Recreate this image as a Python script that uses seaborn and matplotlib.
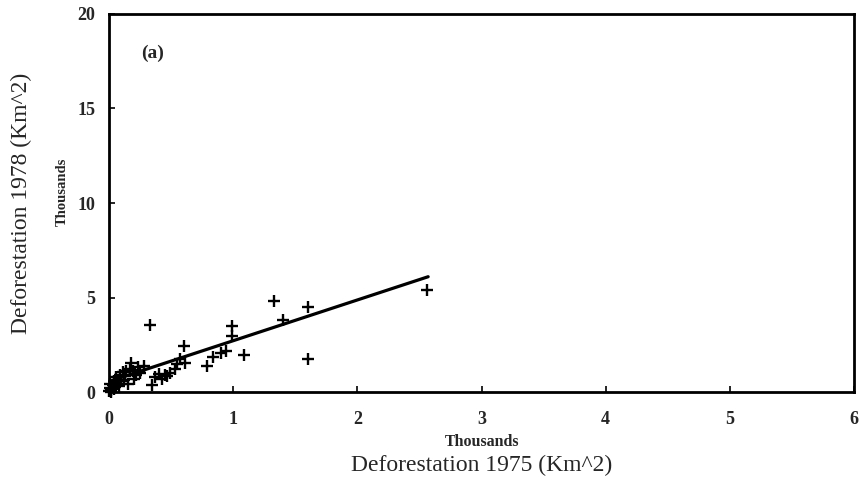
import matplotlib
matplotlib.use("Agg")
import matplotlib.pyplot as plt
import seaborn as sns
import pandas as pd

# =========================
# Data (thousands of km^2)
# =========================
defor_1975 = [0.00, 0.01, 0.02, 0.03, 0.04, 0.05, 0.06, 0.07, 0.08, 0.09,
              0.10, 0.11, 0.12, 0.14, 0.15, 0.17, 0.18, 0.20, 0.22, 0.25,
              0.28, 0.33, 0.35, 0.37, 0.40, 0.43, 0.47, 0.49, 0.53, 0.55,
              0.57, 0.61, 0.60, 0.79, 0.84, 0.90, 0.94, 0.99, 0.99, 1.09,
              1.33, 1.40, 1.60, 1.60, 2.56,
              0.01, 0.02, 0.04, 0.06, 0.13, 0.19, 0.23, 0.45]
defor_1978 = [0.05, 0.20, 0.10, 0.35, 0.60, 0.25, 0.80, 0.45, 0.30, 0.90,
              0.60, 1.05, 0.65, 1.10, 0.40, 1.20, 1.55, 0.70, 0.90, 1.00,
              1.40, 3.55, 0.35, 0.80, 0.95, 0.70, 0.85, 1.00, 1.20, 1.50,
              1.75, 1.55, 2.45, 1.35, 1.85, 2.05, 2.15, 2.95, 3.50, 1.95,
              4.80, 3.80, 4.50, 1.75, 5.40,
              0.45, 0.00, 0.15, 0.50, 0.85, 1.10, 1.30, 0.90]

# fitted regression line end points
fit_x = [0.02, 2.57]
fit_y = [0.60, 6.10]

x_ticks = [0, 1, 2, 3, 4, 5, 6]
y_ticks = [0, 5, 10, 15, 20]

df = pd.DataFrame({"x": defor_1975, "y": defor_1978})
df_fit = pd.DataFrame({"x": fit_x, "y": fit_y})

sns.set_style("ticks")
plt.rcParams["font.family"] = ["Liberation Serif", "DejaVu Serif"]

fig, ax = plt.subplots(figsize=(8.61, 4.91), dpi=100)
fig.subplots_adjust(left=0.1266, right=0.992, bottom=0.2016, top=0.9715)

sns.scatterplot(data=df, x="x", y="y", marker="+", s=75, color="black",
                linewidth=1.7, ax=ax, clip_on=False, zorder=3)
sns.lineplot(data=df_fit, x="x", y="y", color="black", linewidth=2.3, ax=ax)

ax.set_xlim(0, 6)
ax.set_ylim(0, 20)
ax.set_xticks(x_ticks)
ax.set_yticks(y_ticks)
ax.set_xticklabels([str(t) for t in x_ticks], fontweight="bold", fontsize=13)
ax.set_yticklabels([str(t) for t in y_ticks], fontweight="bold", fontsize=13)
ax.tick_params(direction="in", length=4, width=1.2, color="black")
ax.tick_params(axis="x", pad=14)
ax.tick_params(axis="y", pad=10)

for sp in ax.spines.values():
    sp.set_visible(True)
    sp.set_linewidth(2.0)
    sp.set_color("black")

ax.set_xlabel("Deforestation 1975 (Km^2)", fontsize=17)
ax.set_ylabel("Deforestation 1978 (Km^2)", fontsize=17)
ax.xaxis.set_label_coords(0.5, -0.165)
ax.yaxis.set_label_coords(-0.103, 0.5)

fig.text(482 / 861, 1 - 442 / 491, "Thousands", fontsize=11.5,
         fontweight="bold", ha="center", va="center")
fig.text(62 / 861, 1 - 192 / 491, "Thousands", fontsize=10.5,
         fontweight="bold", ha="center", va="center", rotation=90)

ax.text(0.35, 17.9, "(a)", fontsize=14, fontweight="bold",
        ha="center", va="center")

fig.savefig("out.png", dpi=100)
plt.close(fig)
